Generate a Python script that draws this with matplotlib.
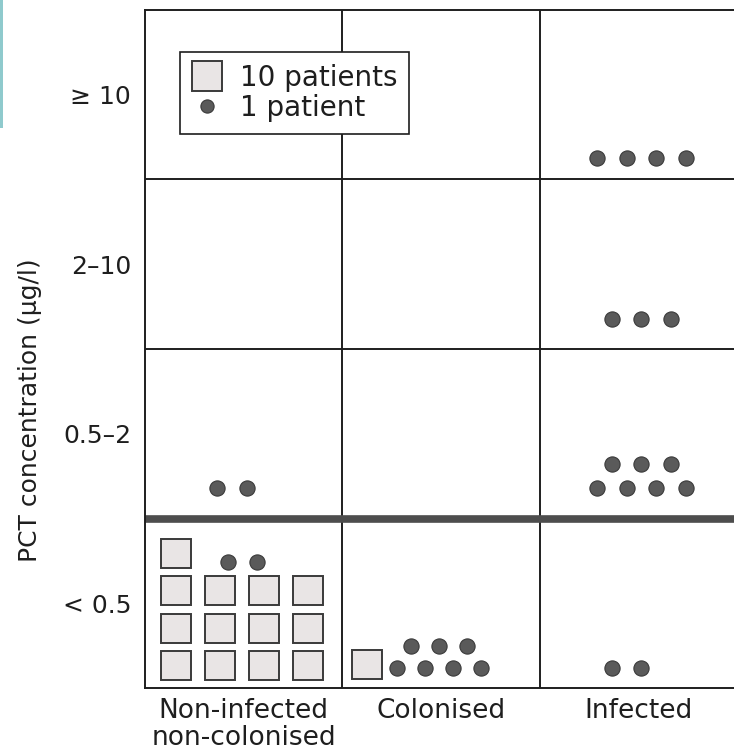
import matplotlib.pyplot as plt
from matplotlib.patches import Rectangle
from matplotlib.lines import Line2D

# categories
groups = ['Non-infected\nnon-colonised', 'Colonised', 'Infected']
levels = ['< 0.5', '0.5–2', '2–10', '≥ 10']   # bottom to top

# per group, per level (bottom to top)
squares = [[13, 0, 0, 0],     # 10 patients each
           [1, 0, 0, 0],
           [0, 0, 0, 0]]
dots = [[2, 2, 0, 0],         # 1 patient each
        [7, 0, 0, 0],
        [2, 7, 3, 4]]

plt.rcParams['font.family'] = ['DejaVu Sans']

W, H = 734, 751
fig = plt.figure(figsize=(W / 100, H / 100), dpi=100)
ax = fig.add_axes([145 / W, (H - 688) / H, 592 / W, 678 / H])
ax.set_xlim(0, 3)
ax.set_ylim(0, 4)

# pixel -> data unit helpers
PX = 3 / 592
PY = 4 / 678

sq_w, sq_h = 30 * PX, 29 * PY
sq_face, sq_edge = '#e9e5e5', '#3a3a3a'
dot_col = '#5a5a5a'
dot_s = 120
dot_lift = [20, 31, 30, 21]   # px from cell bottom to first dot row
txt = '#1e1e1e'


def draw_square(cx, cy):
    ax.add_patch(Rectangle((cx - sq_w / 2, cy - sq_h / 2), sq_w, sq_h,
                           facecolor=sq_face, edgecolor=sq_edge, lw=1.4, zorder=3))


def draw_dots(xs, ys):
    ax.scatter(xs, ys, s=dot_s, color=dot_col, edgecolor='#3a3a3a',
               linewidth=0.8, zorder=3)


for g in range(len(groups)):
    for l in range(len(levels)):
        n_sq, n_dot = squares[g][l], dots[g][l]
        xc = g + 0.5
        yb = l
        if n_sq >= 4:
            # full rows of four, remainder on top at the left, dots next to it
            pitch_x, pitch_y = 44 * PX, 37.5 * PY
            for k in range(n_sq):
                r, c = divmod(k, 4)
                draw_square(xc + (c - 1.5) * pitch_x - 2 * PX,
                            yb + 22.5 * PY + r * pitch_y)
            top_r = n_sq // 4
            last_c = n_sq % 4
            xs = [xc + (last_c - 1.5) * pitch_x - 2 * PX + (8 + 29 * i) * PX
                  for i in range(n_dot)]
            ys = [yb + 22.5 * PY + top_r * pitch_y - 8.5 * PY] * n_dot
            draw_dots(xs, ys)
        elif n_sq > 0:
            # squares inline at the left, dots follow in two staggered rows
            x = g + 24.5 * PX
            for k in range(n_sq):
                draw_square(x + k * 34 * PX, yb + 24 * PY)
            x0 = x + (n_sq - 1) * 34 * PX + 30.5 * PX
            n_low = min(4, n_dot)
            xs = [x0 + i * 28 * PX for i in range(n_low)]
            xs += [x0 + (i + 0.5) * 28 * PX for i in range(n_dot - n_low)]
            ys = [yb + dot_lift[l] * PY] * n_low
            ys += [yb + (dot_lift[l] + 22) * PY] * (n_dot - n_low)
            draw_dots(xs, ys)
        elif n_dot > 0:
            # rows of four; shorter rows start half a step in
            pitch = 29.5 * PX
            start = xc + 3 * PX - 1.5 * pitch
            n_low = min(4, n_dot)
            n_up = n_dot - n_low
            sh = 0.5 if n_low < 4 else 0
            xs = [start + (i + sh) * pitch for i in range(n_low)]
            xs += [start + (i + 0.5) * pitch for i in range(n_up)]
            ys = [yb + dot_lift[l] * PY] * n_low + [yb + (dot_lift[l] + 23) * PY] * n_up
            draw_dots(xs, ys)

# grid
for x in range(1, 3):
    ax.axvline(x, color='#1e1e1e', lw=1.4, zorder=2)
for y in (2, 3):
    ax.axhline(y, color='#1e1e1e', lw=1.4, zorder=2)
ax.axhline(1, color='#4d4d4d', lw=5.5, zorder=2)
for sp in ax.spines.values():
    sp.set_linewidth(1.4)
    sp.set_color('#1e1e1e')

ax.set_xticks([g + 0.5 for g in range(len(groups))])
ax.set_xticklabels(groups, fontsize=19, color=txt, linespacing=1.08)
ax.set_yticks([l + 0.5 for l in range(len(levels))])
ax.set_yticklabels(levels, fontsize=18, color=txt)
ax.tick_params(length=0, pad=10)
ax.tick_params(axis='x', pad=7)

fig.text(30 / W, 1 - 410 / H, 'PCT concentration (µg/l)', rotation=90,
         ha='center', va='center', fontsize=18, color=txt)

handles = [Line2D([], [], ls='', marker='s', markersize=22, markerfacecolor=sq_face,
                  markeredgecolor=sq_edge, markeredgewidth=1.4),
           Line2D([], [], ls='', marker='o', markersize=9.5, markerfacecolor=dot_col,
                  markeredgecolor='#3a3a3a', markeredgewidth=0.8)]
leg = ax.legend(handles, ['10 patients', '1 patient'], loc='upper left',
                bbox_to_anchor=(35 / 592, 1 - 42 / 678), fontsize=20,
                fancybox=False, edgecolor='#1e1e1e', framealpha=1,
                handlelength=1.1, handletextpad=0.65, borderpad=0.42,
                labelspacing=0.08, borderaxespad=0)
leg.get_frame().set_linewidth(1.2)
for t in leg.get_texts():
    t.set_color(txt)

# teal strip on the left edge of the scan
fig.add_artist(Rectangle((0, 1 - 128 / H), 3 / W, 128 / H, transform=fig.transFigure,
                         color='#8fcacd', lw=0))

fig.savefig('out.png', dpi=100)
